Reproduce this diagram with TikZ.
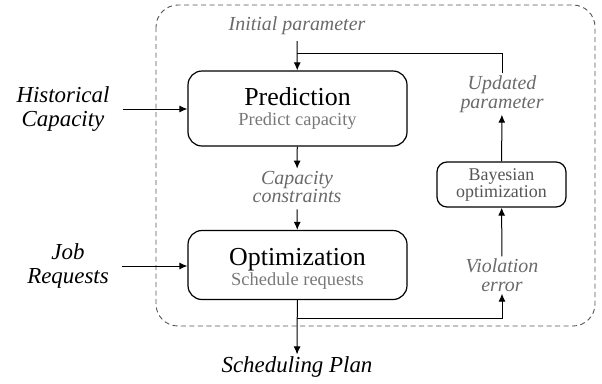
\documentclass[tikz,border=0pt]{standalone}
\usepackage{fontspec}
\setmainfont{Liberation Serif}[ItalicFont={Liberation Serif Italic}]
\usepackage{xcolor}
\usetikzlibrary{arrows.meta}
\definecolor{frameColor}{HTML}{555555}
\definecolor{labelTextColor}{HTML}{6A6A6A}
\definecolor{subTextColor}{HTML}{787878}
\definecolor{bayesTextColor}{HTML}{555555}
\def\textInit{Initial parameter}
\def\textUpd{Updated\\parameter}
\def\textCap{Capacity\\constraints}
\def\textVio{Violation\\error}
\def\textHist{Historical\\Capacity}
\def\textJob{Job\\Requests}
\def\textPlan{Scheduling Plan}

\begin{document}
\begin{tikzpicture}[x=1bp,y=-1bp,
  box/.style={draw, line width=1.2bp, rounded corners=14bp, minimum width=219bp,
    inner sep=0pt, align=center, font=\fontsize{20}{20}\selectfont},
  bayesbox/.style={draw, line width=1.2bp, rounded corners=10bp, minimum width=129bp,
    minimum height=45bp, inner sep=0pt, align=center, text=bayesTextColor,
    font=\fontsize{18}{17}\selectfont},
  lbl/.style={text=labelTextColor, align=center, inner sep=2bp,
    font=\fontsize{20}{19}\selectfont\itshape},
  ext/.style={align=center, inner sep=2bp, font=\fontsize{23}{25}\selectfont\itshape},
  link/.style={line width=1bp, -{Latex[length=8bp,width=7bp]}},
  plain/.style={line width=1bp},
  frame/.style={draw=frameColor, line width=0.9bp, dash pattern=on 5bp off 3.5bp,
    rounded corners=22bp}]

\useasboundingbox (0, 0) rectangle (602, 383);

% frame
\draw[frame] (156, 5) rectangle (595, 326);

% boxes
\node[box, minimum height=75bp] (pred) at (297.5, 108.5)
  {{\fontsize{26}{26}\selectfont Prediction}\\{\fontsize{18.5}{20}\selectfont\color{subTextColor}Predict capacity}};
\node[box, minimum height=69bp] (opt) at (297.5, 265)
  {{\fontsize{26}{26}\selectfont\rule{0pt}{25bp}Optimization}\\{\fontsize{18.5}{20}\selectfont\color{subTextColor}Schedule requests}};
\node[bayesbox] (bay) at (501.5, 184.5) {Bayesian\\optimization};

% labels
\node[lbl] (ini) at (297, 26) {\textInit};
\node[lbl] (upd) at (502, 94) {\textUpd};
\node[lbl] (cap) at (297, 187) {\textCap};
\node[lbl] (vio) at (502, 275) {\textVio};
\node[ext] (hist) at (63, 109) {\textHist};
\node[ext] (job) at (68, 266) {\textJob};
\node[ext] (plan) at (297, 367) {\textPlan};

\coordinate (fbTop) at (297, 53);
\coordinate (split) at (297, 318);

% links
\draw[link, shorten <=4bp] (ini) -- (pred);
\draw[plain] (upd) |- (fbTop);
\draw[link] (bay) -- (upd);
\draw[link] (vio) -- (bay);
\draw[link] (pred) -- (cap);
\draw[link, shorten <=4bp] (cap) -- (opt);
\draw[link] (opt) -- (plan);
\draw[link] (split) -| (vio);
\draw[link, shorten <=11bp] (hist.east) -- (hist.east -| pred.west);
\draw[link, shorten <=11bp] (job.east) -- (job.east -| opt.west);

\end{tikzpicture}
\end{document}
